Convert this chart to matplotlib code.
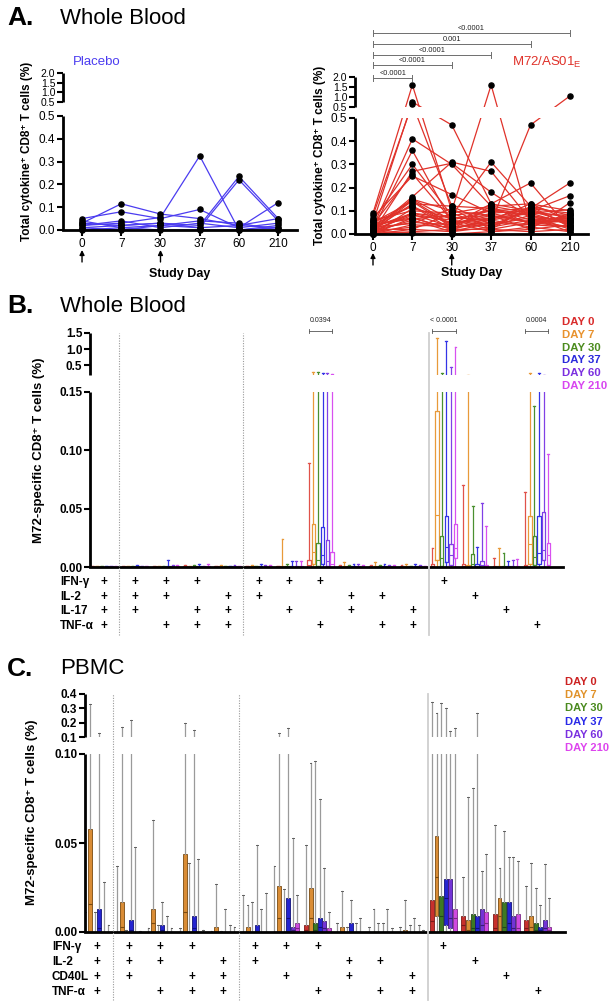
import numpy as np
import matplotlib
matplotlib.use("Agg")
import matplotlib.pyplot as plt

plt.rcParams['font.family'] = ['Liberation Sans', 'DejaVu Sans']
plt.rcParams['mathtext.fontset'] = 'custom'
plt.rcParams['mathtext.rm'] = 'Liberation Sans'
plt.rcParams['mathtext.it'] = 'Liberation Sans:italic'
plt.rcParams['mathtext.bf'] = 'Liberation Sans:bold'

# ---------------- DATA ----------------
days = ['0', '7', '30', '37', '60', '210']
vacc_days = ['0', '30']

# Panel A placebo: one array per study day (index = subject)
pl_d0   = [0.05, 0.03, 0.02, 0.01, 0.04, 0.02, 0.01, 0.00, 0.03]
pl_d7   = [0.08, 0.115, 0.03, 0.02, 0.01, 0.04, 0.00, 0.01, 0.02]
pl_d30  = [0.05, 0.07, 0.055, 0.03, 0.02, 0.01, 0.02, 0.00, 0.03]
pl_d37  = [0.09, 0.05, 0.325, 0.02, 0.01, 0.03, 0.04, 0.00, 0.01]
pl_d60  = [0.01, 0.02, 0.00, 0.235, 0.22, 0.01, 0.03, 0.00, 0.02]
pl_d210 = [0.03, 0.01, 0.02, 0.05, 0.04, 0.12, 0.00, 0.01, 0.05]

# Panel A M72/AS01E
m_d0   = [0.09, 0.05, 0.08, 0.03, 0.02, 0.06, 0.01, 0.04, 0.07, 0.02, 0.03, 0.01, 0.05, 0.02, 0.04, 0.00, 0.06, 0.01,
          0.03, 0.02, 0.00, 0.04, 0.01, 0.02, 0.03, 0.00, 0.01, 0.02, 0.00, 0.01, 0.03, 0.05, 0.02, 0.00, 0.04]
m_d7   = [1.60, 0.75, 0.65, 0.41, 0.36, 0.30, 0.27, 0.26, 0.25, 0.16, 0.15, 0.145, 0.14, 0.13, 0.12, 0.11, 0.10, 0.09,
          0.085, 0.08, 0.07, 0.065, 0.06, 0.05, 0.045, 0.04, 0.03, 0.02, 0.01, 0.005, 0.09, 0.12, 0.15, 0.02, 0.07]
m_d30  = [0.10, 0.47, 0.12, 0.30, 0.05, 0.08, 0.305, 0.06, 0.17, 0.31, 0.10, 0.04, 0.03, 0.12, 0.02, 0.07, 0.09, 0.05,
          0.03, 0.06, 0.02, 0.08, 0.01, 0.04, 0.11, 0.03, 0.05, 0.01, 0.02, 0.00, 0.07, 0.04, 0.06, 0.09, 0.02]
m_d37  = [0.08, 0.13, 0.11, 0.12, 0.06, 0.31, 0.18, 0.10, 0.09, 0.27, 1.60, 0.13, 0.05, 0.04, 0.12, 0.08, 0.03, 0.07,
          0.11, 0.02, 0.06, 0.10, 0.05, 0.09, 0.02, 0.04, 0.01, 0.03, 0.02, 0.01, 0.06, 0.08, 0.035, 0.12, 0.07]
m_d60  = [0.05, 0.10, 0.08, 0.09, 0.13, 0.12, 0.07, 0.11, 0.05, 0.06, 0.04, 0.22, 0.47, 0.10, 0.13, 0.02, 0.11, 0.09,
          0.06, 0.12, 0.03, 0.08, 0.04, 0.10, 0.05, 0.07, 0.02, 0.06, 0.01, 0.03, 0.09, 0.05, 0.08, 0.04, 0.11]
m_d210 = [0.06, 0.07, 0.05, 0.04, 0.10, 0.08, 0.06, 0.22, 0.03, 0.05, 0.08, 0.02, 1.05, 0.165, 0.06, 0.135, 0.04, 0.105,
          0.07, 0.03, 0.09, 0.02, 0.06, 0.05, 0.07, 0.01, 0.04, 0.03, 0.02, 0.01, 0.08, 0.06, 0.05, 0.03, 0.09]

a_comp_to = [1, 2, 3, 4, 5]          # day index compared with day 0
a_comp_p = ['<0.0001', '<0.0001', '<0.0001', '0.001', '<0.0001']

# Panels B/C: cytokine combinations (15 columns)
b_labels = ['IFN-γ', 'IL-2', 'IL-17', 'TNF-α']
c_labels = ['IFN-γ', 'IL-2', 'CD40L', 'TNF-α']
comb_1 = [1, 1, 1, 1, 0, 1, 1, 1, 0, 0, 0, 1, 0, 0, 0]
comb_2 = [1, 1, 1, 0, 1, 1, 0, 0, 1, 1, 0, 0, 1, 0, 0]
comb_3 = [1, 1, 0, 1, 1, 0, 1, 0, 1, 0, 1, 0, 0, 1, 0]
comb_4 = [1, 0, 1, 1, 1, 0, 0, 1, 0, 1, 1, 0, 0, 0, 1]

day_names = ['DAY 0', 'DAY 7', 'DAY 30', 'DAY 37', 'DAY 60', 'DAY 210']

# Panel B box statistics: rows = combination, cols = day
b_max = [[0.001, 0.001, 0.0005, 0.001, 0.001, 0.001],
         [0.001, 0.001, 0.001, 0.002, 0.001, 0.001],
         [0.001, 0.001, 0.001, 0.006, 0.002, 0.002],
         [0.002, 0.001, 0.002, 0.003, 0.001, 0.003],
         [0.001, 0.002, 0.001, 0.001, 0.002, 0.001],
         [0.001, 0.002, 0.001, 0.003, 0.002, 0.002],
         [0.001, 0.024, 0.003, 0.005, 0.005, 0.005],
         [0.089, 0.28, 0.28, 0.25, 0.26, 0.22],
         [0.002, 0.004, 0.002, 0.003, 0.003, 0.002],
         [0.002, 0.004, 0.002, 0.003, 0.002, 0.002],
         [0.002, 0.003, 0.001, 0.003, 0.002, 0.001],
         [0.016, 1.34, 0.25, 1.25, 0.44, 1.06],
         [0.070, 0.20, 0.052, 0.017, 0.055, 0.035],
         [0.008, 0.016, 0.012, 0.005, 0.006, 0.007],
         [0.064, 0.25, 0.138, 0.25, 0.20, 0.097]]
b_q3 = [[0.0005] * 6, [0.0005] * 6, [0.0005] * 6, [0.0005] * 6, [0.0005] * 6,
        [0.0005] * 6, [0.0005, 0.001, 0.001, 0.001, 0.001, 0.001],
        [0.006, 0.037, 0.021, 0.034, 0.023, 0.013],
        [0.0005] * 6, [0.0005] * 6, [0.0005] * 6,
        [0.003, 0.134, 0.027, 0.044, 0.020, 0.037],
        [0.003, 0.002, 0.011, 0.003, 0.005, 0.002],
        [0.001] * 6,
        [0.002, 0.044, 0.027, 0.044, 0.047, 0.021]]
b_med = [[0.0] * 6] * 7 + [[0.002, 0.013, 0.006, 0.010, 0.005, 0.003]] + [[0.0] * 6] * 3 + \
        [[0.001, 0.045, 0.008, 0.017, 0.010, 0.016],
         [0.001, 0.001, 0.003, 0.001, 0.002, 0.001],
         [0.0] * 6,
         [0.001, 0.020, 0.009, 0.012, 0.015, 0.010]]
b_q1 = [[0.0] * 6] * 7 + [[0.0, 0.003, 0.001, 0.003, 0.001, 0.0]] + [[0.0] * 6] * 3 + \
       [[0.0, 0.006, 0.001, 0.004, 0.002, 0.008],
        [0.0] * 6, [0.0] * 6,
        [0.0, 0.003, 0.002, 0.003, 0.006, 0.002]]
b_sig_cols = [7, 11, 14]
b_sig_p = ['0.0394', '< 0.0001', '0.0004']

# Panel C box statistics
c_max = [[0.011, 0.33, 0.011, 0.13, 0.028, 0.004],
         [0.037, 0.17, 0.001, 0.22, 0.048, 0.0005],
         [0.002, 0.063, 0.004, 0.017, 0.009, 0.002],
         [0.002, 0.20, 0.039, 0.15, 0.041, 0.001],
         [0.0005, 0.027, 0.0005, 0.013, 0.004, 0.003],
         [0.021, 0.015, 0.017, 0.049, 0.013, 0.022],
         [0.037, 0.13, 0.024, 0.16, 0.053, 0.021],
         [0.049, 0.095, 0.096, 0.075, 0.036, 0.011],
         [0.005, 0.023, 0.003, 0.018, 0.005, 0.008],
         [0.003, 0.013, 0.005, 0.005, 0.013, 0.002],
         [0.003, 0.018, 0.004, 0.008, 0.004, 0.001],
         [0.345, 0.27, 0.34, 0.30, 0.14, 0.16],
         [0.031, 0.076, 0.081, 0.27, 0.034, 0.044],
         [0.060, 0.036, 0.057, 0.042, 0.042, 0.040],
         [0.026, 0.039, 0.025, 0.015, 0.038, 0.019]]
c_q3 = [[0.0, 0.058, 0.0, 0.013, 0.0, 0.0],
        [0.0, 0.017, 0.0, 0.007, 0.0, 0.0],
        [0.0, 0.013, 0.0, 0.004, 0.0, 0.0],
        [0.0, 0.044, 0.0, 0.009, 0.0, 0.0],
        [0.0, 0.003, 0.0, 0.0, 0.0, 0.0],
        [0.0, 0.003, 0.0, 0.004, 0.0, 0.0],
        [0.0, 0.026, 0.0, 0.019, 0.003, 0.005],
        [0.004, 0.025, 0.005, 0.008, 0.006, 0.002],
        [0.0, 0.003, 0.0, 0.005, 0.0, 0.0],
        [0.0] * 6,
        [0.0, 0.001, 0.0, 0.0, 0.0, 0.0],
        [0.018, 0.054, 0.020, 0.030, 0.030, 0.013],
        [0.009, 0.007, 0.010, 0.009, 0.013, 0.011],
        [0.010, 0.019, 0.017, 0.017, 0.009, 0.010],
        [0.007, 0.009, 0.005, 0.003, 0.007, 0.003]]
c_med = [[0.0, 0.016, 0.0, 0.002, 0.0, 0.0],
         [0.0, 0.003, 0.0, 0.001, 0.0, 0.0],
         [0.0, 0.005, 0.0, 0.001, 0.0, 0.0],
         [0.0, 0.011, 0.0, 0.002, 0.0, 0.0],
         [0.0] * 6, [0.0] * 6,
         [0.0, 0.008, 0.0, 0.008, 0.001, 0.002],
         [0.001, 0.008, 0.001, 0.003, 0.002, 0.0],
         [0.0] * 6, [0.0] * 6, [0.0] * 6,
         [0.006, 0.031, 0.009, 0.019, 0.008, 0.008],
         [0.004, 0.001, 0.002, 0.002, 0.004, 0.005],
         [0.002, 0.009, 0.003, 0.005, 0.002, 0.002],
         [0.002, 0.003, 0.001, 0.001, 0.002, 0.001]]
c_q1 = [[0.0] * 6] * 11 + [[0.0, 0.009, 0.0, 0.004, 0.002, 0.0]] + [[0.0] * 6] * 3

# ---------------- STYLE ----------------
W, H = 615, 1007
fig = plt.figure(figsize=(W / 100, H / 100), dpi=100)

def px_axes(left, right, top, bottom):
    return fig.add_axes([left / W, 1 - bottom / H, (right - left) / W, (bottom - top) / H])

def make_break(L, Gp, Up, blo, u0, top):
    ppu = L / blo
    g = Gp / ppu
    k = (Up / (top - u0)) / ppu
    def fwd(v):
        v = np.asarray(v, dtype=float)
        mid = blo + g * (v - blo) / (u0 - blo)
        hi = blo + g + (v - u0) * k
        return np.where(v <= blo, v, np.where(v < u0, mid, hi))
    def inv(u):
        u = np.asarray(u, dtype=float)
        mid = blo + (u - blo) * (u0 - blo) / g
        hi = u0 + (u - blo - g) / k
        return np.where(u <= blo, u, np.where(u < blo + g, mid, hi))
    return fwd, inv

def setup_broken(ax, L, Gp, Up, blo, u0, top, ticks, labels, bold, fs, lw=2.0, upper_fs=None):
    fwd, inv = make_break(L, Gp, Up, blo, u0, top)
    ax.set_yscale('function', functions=(fwd, inv))
    ax.set_ylim(0, top)
    ax.set_yticks(ticks)
    ax.set_yticklabels(labels, fontsize=fs, fontweight='bold' if bold else 'normal')
    if upper_fs:
        for t, lab in zip(ticks, ax.get_yticklabels()):
            if t >= u0:
                lab.set_fontsize(upper_fs)
    for s in ['top', 'right', 'left']:
        ax.spines[s].set_visible(False)
    ax.spines['bottom'].set_linewidth(lw)
    tr = ax.get_yaxis_transform()
    ax.plot([0, 0], [0, blo], transform=tr, color='k', lw=lw, clip_on=False, solid_capstyle='butt', zorder=5)
    ax.plot([0, 0], [u0, top], transform=tr, color='k', lw=lw, clip_on=False, solid_capstyle='butt', zorder=5)
    ax.axhspan(blo, u0, facecolor='white', edgecolor='none', zorder=2.5)
    ax.tick_params(axis='y', direction='out', length=4, width=1.5, pad=1.5)
    ax.patch.set_alpha(0)

# ---------------- Titles ----------------
for lab, title, y in [('A.', 'Whole Blood', 18), ('B.', 'Whole Blood', 306), ('C.', 'PBMC', 669)]:
    fig.text(7 / W, 1 - y / H, lab, fontsize=19, fontweight='bold', va='center')
    fig.text(60 / W, 1 - y / H, title, fontsize=16, va='center')

# ---------------- Panel A ----------------
a_ticks = [0, 0.1, 0.2, 0.3, 0.4, 0.5, 0.500001, 1.0, 1.5, 2.0]
a_tlabels = ['0.0', '0.1', '0.2', '0.3', '0.4', '0.5', '0.5', '1.0', '1.5', '2.0']

def panel_a(ax, series, color, L, Gp, Up, xl, arrow_px, bottom_px, height_px):
    setup_broken(ax, L, Gp, Up, 0.5, 0.500001, 2.0, a_ticks, a_tlabels, False, 8.5, upper_fs=7.5)
    x = np.arange(len(days))
    vals = np.array(series).T
    for row in vals:
        ax.plot(x, row, color=color, lw=0.9, zorder=2)
    for row in vals:
        ax.plot(x, row, 'o', color='k', ms=3.7, zorder=4, clip_on=False)
    ax.set_xlim(*xl)
    ax.set_xticks(x)
    ax.set_xticklabels(days, fontsize=8.5)
    ax.tick_params(axis='x', direction='out', length=4, width=1.5, pad=2)
    tip, tail = arrow_px
    for d in vacc_days:
        xi = days.index(d)
        ax.annotate('', xy=(xi, (bottom_px - tip) / height_px), xycoords=ax.get_xaxis_transform(),
                    xytext=(xi, (bottom_px - tail) / height_px), textcoords=ax.get_xaxis_transform(),
                    arrowprops=dict(arrowstyle='-|>', color='k', lw=1.0, mutation_scale=7,
                                    shrinkA=0, shrinkB=0))

axA1 = px_axes(63, 297, 73, 230)
panel_a(axA1, [pl_d0, pl_d7, pl_d30, pl_d37, pl_d60, pl_d210], '#4b3cf0', 114, 14, 29,
        (-0.485, 5.48), (250, 262), 230, 157)
axA2 = px_axes(355, 588, 77, 234)
panel_a(axA2, [m_d0, m_d7, m_d30, m_d37, m_d60, m_d210], '#e0322a', 116, 11, 30,
        (-0.457, 5.46), (253, 265), 234, 157)

fig.text(73 / W, 1 - 62 / H, 'Placebo', color='#4b3cf0', fontsize=9.5, va='center')
fig.text(512 / W, 1 - 62 / H, 'M72/AS01$_\\mathregular{E}$', color='#e0322a', fontsize=9.5, va='center')
ylab_a = 'Total cytokine⁺ CD8⁺ T cells (%)'
fig.text(27 / W, 1 - 151 / H, ylab_a, rotation=90, fontsize=8.5, fontweight='bold', ha='center', va='center')
fig.text(320 / W, 1 - 155 / H, ylab_a, rotation=90, fontsize=8.5, fontweight='bold', ha='center', va='center')
fig.text(180 / W, 1 - 274 / H, 'Study Day', fontsize=9, fontweight='bold', ha='center', va='center')
fig.text(472 / W, 1 - 273 / H, 'Study Day', fontsize=9, fontweight='bold', ha='center', va='center')

# comparison brackets on M72 panel
tr = axA2.get_xaxis_transform()
bracket_px = [78, 65, 55, 44, 33]
for d_to, p, ypx in zip(a_comp_to, a_comp_p, bracket_px):
    yf = (234 - ypx) / 157
    dt = 3 / 157
    axA2.plot([0, d_to], [yf, yf], transform=tr, color='#6e6e6e', lw=0.7, clip_on=False)
    for xe in (0, d_to):
        axA2.plot([xe, xe], [yf - dt, yf + dt], transform=tr, color='#6e6e6e', lw=0.7, clip_on=False)
    axA2.text(d_to / 2, yf + 4.5 / 157, p, transform=tr, fontsize=5.3, ha='center', va='center', color='#222222')

# ---------------- Panels B & C ----------------
def box_panel(ax, mx, q3, med, q1, colors, edge_colors, filled, xl, spacing, width,
              whisker_color=None):
    ncol = len(mx)
    for di in range(len(day_names)):
        stats = []
        pos = []
        for ci in range(ncol):
            stats.append(dict(med=med[ci][di], q1=q1[ci][di], q3=q3[ci][di],
                              whislo=0.0, whishi=mx[ci][di], fliers=[]))
            pos.append(ci + (di - 2.5) * spacing)
        wc = whisker_color if whisker_color else colors[di]
        if filled:
            ax.bxp(stats, positions=pos, widths=width, showfliers=False, patch_artist=True,
                   boxprops=dict(facecolor=colors[di], edgecolor=edge_colors[di], lw=0.6),
                   whiskerprops=dict(color=wc, lw=0.9),
                   capprops=dict(color='#606060', lw=0.7),
                   medianprops=dict(color=edge_colors[di], lw=0.8),
                   capwidths=0.06, manage_ticks=False)
        else:
            ax.bxp(stats, positions=pos, widths=width, showfliers=False,
                   boxprops=dict(color=colors[di], lw=0.9),
                   whiskerprops=dict(color=wc, lw=0.9),
                   capprops=dict(color=colors[di], lw=0.9),
                   medianprops=dict(color=colors[di], lw=0.8),
                   capwidths=0.06, manage_ticks=False)
    ax.set_xlim(*xl)
    ax.set_xticks([])

def table(ax, labels, bottom_px, height_px, rows_px, label_px):
    combos = [comb_1, comb_2, comb_3, comb_4]
    tr = ax.get_xaxis_transform()
    for lab, combo, ypx in zip(labels, combos, rows_px):
        yf = (bottom_px - ypx) / height_px
        fig.text(label_px / W, 1 - ypx / H, lab, fontsize=8.5, fontweight='bold', va='center')
        for ci, on in enumerate(combo):
            if on:
                ax.text(ci, yf, '+', transform=tr, fontsize=8.5, fontweight='bold',
                        ha='center', va='center', clip_on=False)

def dividers(ax, ybot):
    tr = ax.get_xaxis_transform()
    ax.plot([0.5, 0.5], [ybot, 1.0], transform=tr, color='#9a9a9a', lw=0.8, ls=(0, (1, 1.3)),
            clip_on=False, zorder=3)
    ax.plot([4.5, 4.5], [ybot, 1.0], transform=tr, color='#9a9a9a', lw=0.8, ls=(0, (1, 1.3)),
            clip_on=False, zorder=3)
    ax.plot([10.5, 10.5], [ybot, 1.0], transform=tr, color='#cfcfcf', lw=1.3, clip_on=False, zorder=3)

b_colors = ['#e0524a', '#e89a3a', '#4a9030', '#3434e6', '#8040e6', '#d850f0']
b_legend = ['#d92b2b', '#e8922e', '#4c8c1e', '#2b2bdc', '#7b2fe0', '#d846f0']

axB = px_axes(90, 563, 333, 567)
setup_broken(axB, 175, 17, 42, 0.15, 0.19, 1.5,
             [0, 0.05, 0.10, 0.15, 0.5, 1.0, 1.5],
             ['0.00', '0.05', '0.10', '0.15', '0.5', '1.0', '1.5'], True, 8.5)
box_panel(axB, b_max, b_q3, b_med, b_q1, b_colors, b_colors, False, (-0.45, 14.85), 0.149, 0.11)
dividers(axB, (567 - 635) / 234)
table(axB, b_labels, 567, 234, [582, 597, 611, 626], 60)
trB = axB.get_xaxis_transform()
for ci, p in zip(b_sig_cols, b_sig_p):
    yf = (567 - 331) / 234
    dt = 2.5 / 234
    axB.plot([ci - 0.38, ci + 0.38], [yf, yf], transform=trB, color='#555555', lw=0.6, clip_on=False)
    for xe in (ci - 0.38, ci + 0.38):
        axB.plot([xe, xe], [yf - dt, yf + dt], transform=trB, color='#555555', lw=0.6, clip_on=False)
    axB.text(ci, (567 - 321) / 234, p, transform=trB, fontsize=5, ha='center', va='center', color='#222222')
for i, (name, col) in enumerate(zip(day_names, b_legend)):
    fig.text(562 / W, 1 - (322 + 12.8 * i) / H, name, color=col, fontsize=8.2, fontweight='bold', va='center')
fig.text(39 / W, 1 - 450 / H, 'M72-specific CD8⁺ T cells (%)', rotation=90, fontsize=9.5,
         fontweight='bold', ha='center', va='center')

c_colors = ['#c8302c', '#d98c35', '#3d7a22', '#2424d0', '#7333d6', '#d048e0']
c_edges = ['#7a1a18', '#7a4a10', '#20461a', '#10107a', '#3a1a7a', '#7a2a86']
c_legend = ['#cc2222', '#e0922a', '#4a8a1e', '#2a2ae8', '#7a30e0', '#dd44ee']

axC = px_axes(85, 565, 694, 932)
setup_broken(axC, 178, 17, 43, 0.1, 0.100001, 0.4,
             [0, 0.05, 0.10, 0.100001, 0.2, 0.3, 0.4],
             ['0.00', '0.05', '0.10', '0.1', '0.2', '0.3', '0.4'], True, 8.5)
box_panel(axC, c_max, c_q3, c_med, c_q1, c_colors, c_edges, True, (-0.38, 14.86), 0.146, 0.125,
          whisker_color='#9a9a9a')
dividers(axC, (932 - 1000) / 238)
table(axC, c_labels, 932, 238, [947, 962, 977, 992], 52)
for i, (name, col) in enumerate(zip(day_names, c_legend)):
    fig.text(565 / W, 1 - (682 + 13.2 * i) / H, name, color=col, fontsize=8, fontweight='bold', va='center')
fig.text(32 / W, 1 - 812 / H, 'M72-specific CD8⁺ T cells (%)', rotation=90, fontsize=9.5,
         fontweight='bold', ha='center', va='center')

fig.savefig('out.png', dpi=100)
